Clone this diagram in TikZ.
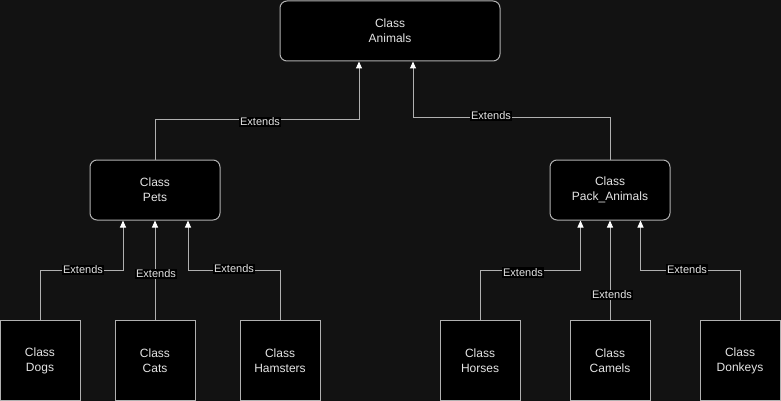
\documentclass[tikz,border=0pt]{standalone}
\usepackage{fontspec}
\setmainfont{Liberation Sans}
\usetikzlibrary{arrows.meta}
\definecolor{bg}{RGB}{18,18,18}
\definecolor{edge}{RGB}{176,176,176}
\definecolor{txt}{RGB}{228,228,228}
\begin{document}
\begin{tikzpicture}[x=1pt,y=-1pt,
  cls/.style={draw=edge,fill=black,line width=1pt,text=txt,align=center,
    font=\fontsize{12}{15}\selectfont,inner sep=0pt},
  rbox/.style={cls,rounded corners=7pt},
  ext/.style={draw=edge,line width=1pt,-{Triangle[length=7pt,width=6pt,fill=white,color=white]}},
  lbl/.style={fill=black,text=txt,font=\fontsize{11}{11}\selectfont,inner sep=1pt}]
\fill[bg] (0,0) rectangle (781,401);
\useasboundingbox (0,0) rectangle (781,401);
% boxes
\node[rbox,minimum width=220pt,minimum height=60pt] (animals) at (390,31) {Class\\Animals};
\node[rbox,minimum width=130pt,minimum height=60pt] (pets) at (155,190) {Class\\Pets};
\node[rbox,minimum width=120pt,minimum height=60pt] (pack) at (610,190) {Class\\Pack\_Animals};
\node[cls,minimum width=80pt,minimum height=80pt] (dogs) at (40,360.5) {Class\\Dogs};
\node[cls,minimum width=80pt,minimum height=80pt] (cats) at (155,360.5) {Class\\Cats};
\node[cls,minimum width=80pt,minimum height=80pt] (hamsters) at (280,360.5) {Class\\Hamsters};
\node[cls,minimum width=80pt,minimum height=80pt] (horses) at (480,360.5) {Class\\Horses};
\node[cls,minimum width=80pt,minimum height=80pt] (camels) at (610,360.5) {Class\\Camels};
\node[cls,minimum width=80pt,minimum height=80pt] (donkeys) at (740,360.5) {Class\\Donkeys};
% top connectors
\draw[ext] (pets.north) -- (155,120) -- (359,120) -- (359,61.5);
\node[lbl] (l1) at (260,122) {Extends};
\draw[ext] (pack.north) -- (610,118) -- (413,118) -- (413,61.5);
\node[lbl] (l2) at (491,116) {Extends};
% pets connectors
\draw[ext] (dogs.north) -- (40,270) -- (123,270) -- (123,220.5);
\node[lbl] (l3) at (83,270) {Extends};
\draw[ext] (cats.north) -- (155,220.5);
\node[lbl] (l4) at (156,274) {Extends};
\draw[ext] (hamsters.north) -- (280,270) -- (188,270) -- (188,220.5);
\node[lbl] (l5) at (234,269) {Extends};
% pack connectors
\draw[ext] (horses.north) -- (480,270) -- (580.5,270) -- (580.5,220.5);
\node[lbl] (l6) at (523,272.5) {Extends};
\draw[ext] (camels.north) -- (610,220.5);
\node[lbl] (l7) at (612,295) {Extends};
\draw[ext] (donkeys.north) -- (740,270) -- (640.5,270) -- (640.5,220.5);
\node[lbl] (l8) at (687,269.5) {Extends};
\end{tikzpicture}
\end{document}
